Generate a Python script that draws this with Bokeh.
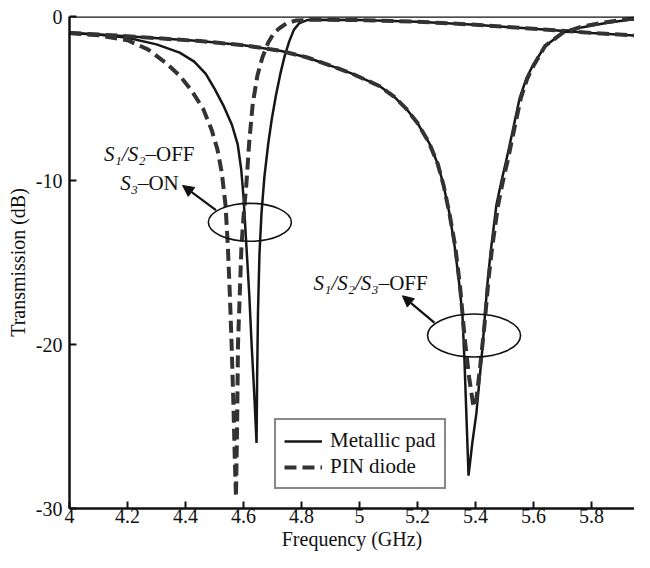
from bokeh.plotting import figure
from bokeh.models import (Range1d, FixedTicker, Span, Legend, LegendItem, Arrow, NormalHead)
from bokeh.core.properties import value
from bokeh.embed import file_html
from bokeh.resources import INLINE

# ---- data ----
x_ticks = [4, 4.2, 4.4, 4.6, 4.8, 5, 5.2, 5.4, 5.6, 5.8, 6]
x_tick_labels = ["4", "4.2", "4.4", "4.6", "4.8", "5", "5.2", "5.4", "5.6", "5.8", "6"]
y_ticks = [0, -10, -20, -30]
y_tick_labels = ["0", "-10", "-20", "-30"]

# S1/S2-OFF, S3-ON : metallic pad (solid)
freq_a = [4.00, 4.10, 4.20, 4.30, 4.38, 4.43, 4.47, 4.50, 4.53, 4.56, 4.58, 4.592, 4.600,
          4.610, 4.620, 4.628, 4.637, 4.645, 4.647, 4.650, 4.655, 4.662, 4.672, 4.685,
          4.698, 4.712, 4.727, 4.742, 4.758, 4.774, 4.793, 4.82, 4.90, 5.00, 5.20, 5.40,
          5.60, 5.80, 6.00]
db_a = [-1.00, -1.10, -1.30, -1.70, -2.20, -2.75, -3.50, -4.40, -5.40, -6.60, -7.80, -9.30,
        -11.0, -14.0, -17.0, -20.0, -23.0, -26.0, -22.0, -18.0, -14.5, -12.0, -9.8, -7.8,
        -6.2, -4.8, -3.5, -2.4, -1.5, -0.8, -0.4, -0.22, -0.2, -0.22, -0.32, -0.50,
        -0.75, -1.00, -1.22]

# S1/S2-OFF, S3-ON : PIN diode (dashed)
freq_b = [4.00, 4.10, 4.20, 4.27, 4.33, 4.38, 4.42, 4.46, 4.49, 4.51, 4.525, 4.538, 4.546,
          4.553, 4.559, 4.565, 4.570, 4.574, 4.578, 4.581, 4.587, 4.593, 4.601, 4.610,
          4.620, 4.632, 4.648, 4.665, 4.685, 4.705, 4.725, 4.75, 4.78, 4.83, 4.90, 5.00,
          5.20, 5.40, 5.60, 5.80, 6.00]
db_b = [-1.00, -1.15, -1.45, -2.00, -2.80, -3.60, -4.50, -5.60, -6.90, -8.10, -9.50, -11.5,
        -14.0, -17.0, -20.0, -23.5, -27.0, -29.3, -25.0, -20.0, -17.0, -14.0, -12.0, -10.2,
        -7.6, -5.3, -3.6, -2.5, -1.6, -1.0, -0.7, -0.4, -0.25, -0.2, -0.2, -0.22,
        -0.32, -0.50, -0.75, -1.00, -1.22]

# S1/S2/S3-OFF : metallic pad (solid)
freq_c = [4.00, 4.20, 4.45, 4.60, 4.73, 4.82, 4.90, 4.97, 5.02, 5.07, 5.12, 5.16, 5.20,
          5.24, 5.27, 5.29, 5.31, 5.328, 5.342, 5.355, 5.362, 5.369, 5.376, 5.389, 5.403,
          5.424, 5.440, 5.452, 5.472, 5.490, 5.507, 5.528, 5.552, 5.575, 5.597, 5.640,
          5.700, 5.770, 5.850, 5.930, 6.00]
db_c = [-1.00, -1.20, -1.50, -1.75, -2.10, -2.50, -3.00, -3.45, -3.85, -4.25, -4.90, -5.60,
        -6.50, -7.70, -9.00, -10.3, -12.0, -14.0, -16.0, -18.2, -21.0, -24.5, -28.0, -26.0,
        -24.2, -20.2, -16.5, -14.4, -11.5, -10.0, -8.7, -7.0, -5.0, -3.8, -3.0, -1.8,
        -1.0, -0.65, -0.4, -0.2, -0.1]

# S1/S2/S3-OFF : PIN diode (dashed)
freq_d = [4.00, 4.20, 4.45, 4.60, 4.73, 4.82, 4.90, 4.97, 5.02, 5.07, 5.12, 5.16, 5.20,
          5.24, 5.27, 5.29, 5.31, 5.330, 5.347, 5.362, 5.378, 5.393, 5.402, 5.415, 5.430,
          5.445, 5.458, 5.478, 5.495, 5.512, 5.532, 5.556, 5.578, 5.600, 5.640, 5.700,
          5.770, 5.850, 5.930, 6.00]
db_d = [-1.00, -1.20, -1.50, -1.75, -2.10, -2.50, -3.00, -3.45, -3.85, -4.25, -4.90, -5.60,
        -6.50, -7.70, -9.00, -10.3, -12.0, -14.0, -16.5, -19.5, -22.0, -23.8, -23.5, -21.5,
        -19.0, -16.0, -14.0, -11.5, -10.0, -8.7, -7.0, -5.0, -3.8, -3.0, -1.8, -1.0,
        -0.6, -0.35, -0.15, -0.05]

FONT = "Liberation Serif"
SOLID = "#161616"
DASH = "#333333"
FS = "20px"

LEFT = 69
W = 634
# frame: 290 px per GHz starting at 4 GHz; the page cuts the chart just before 6 GHz
p = figure(width=W, height=552, output_backend="svg", toolbar_location=None,
           x_range=Range1d(4, 4 + (W - LEFT) / 290), y_range=Range1d(-30, 0),
           min_border_left=LEFT, min_border_right=0, min_border_top=16, min_border_bottom=44)
p.outline_line_color = None
p.grid.visible = False
p.background_fill_color = "white"
p.border_fill_color = "white"

# axes
p.xaxis.ticker = FixedTicker(ticks=x_ticks)
p.xaxis.major_label_overrides = dict(zip(x_ticks, x_tick_labels))
p.yaxis.ticker = FixedTicker(ticks=y_ticks)
p.yaxis.major_label_overrides = dict(zip(y_ticks, y_tick_labels))
for ax in (p.xaxis, p.yaxis):
    ax.axis_line_color = "#111111"
    ax.axis_line_width = 2.5
    ax.major_tick_line_color = "#111111"
    ax.major_tick_line_width = 2
    ax.major_tick_in = 7
    ax.major_tick_out = 0
    ax.minor_tick_line_color = None
    ax.major_label_text_font = FONT
    ax.major_label_text_font_size = FS
    ax.major_label_text_color = "#111111"
    ax.axis_label_text_font = FONT
    ax.axis_label_text_font_size = FS
    ax.axis_label_text_font_style = "normal"
    ax.axis_label_text_color = "#111111"
p.xaxis.axis_label = "Frequency (GHz)"
p.yaxis.axis_label = "Transmission (dB)"
p.xaxis.major_label_standoff = 0
p.xaxis.axis_label_standoff = 2
p.yaxis.major_label_standoff = 7
p.yaxis.axis_label_standoff = 4

p.add_layout(Span(location=0, dimension="width", line_color="#111111", line_width=2.5))

# curves
ra = p.line(freq_a, db_a, line_color=SOLID, line_width=2.5)
rb = p.line(freq_b, db_b, line_color=DASH, line_width=4, line_dash="12 6")
rc = p.line(freq_c, db_c, line_color=SOLID, line_width=2.5)
rd = p.line(freq_d, db_d, line_color=DASH, line_width=4, line_dash="12 6")

# annotations: ellipses
p.ellipse(x=[4.622, 5.395], y=[-12.55, -19.45], width=[83, 93], height=[38, 43],
          width_units="screen", height_units="screen",
          fill_color=None, line_color="#111111", line_width=1.6)

# arrows
for xs, ys, xe, ye in [(4.505, -11.8, 4.39, -10.3), (5.258, -18.67, 5.148, -17.03)]:
    p.add_layout(Arrow(end=NormalHead(size=11, fill_color="#111111", line_color="#111111"),
                       x_start=xs, y_start=ys, x_end=xe, y_end=ye,
                       line_color="#111111", line_width=2.2))

# labels
p.text(x=[4.262, 4.236, 5.066], y=[-8.36, -10.18, -16.24],
       text=["S\u2081/S\u2082", "S\u2083", "S\u2081/S\u2082/S\u2083"],
       text_font=value(FONT), text_font_size="21px", text_font_style="italic",
       text_align="right", text_baseline="middle", text_color="#111111")
p.text(x=[4.262, 4.236, 5.066], y=[-8.36, -10.18, -16.24],
       text=["\u2013OFF", "\u2013ON", "\u2013OFF"],
       text_font=value(FONT), text_font_size="21px",
       text_align="left", text_baseline="middle", text_color="#111111")

legend = Legend(items=[LegendItem(label="Metallic pad", renderers=[ra]),
                       LegendItem(label="PIN diode", renderers=[rb])],
                location=(205, 19))
legend.border_line_color = "#111111"
legend.border_line_width = 2.5
legend.background_fill_alpha = 1
legend.label_text_font = FONT
legend.label_text_font_size = "21px"
legend.label_text_color = "#111111"
legend.label_height = 24
legend.glyph_height = 24
legend.glyph_width = 38
legend.spacing = 1
legend.padding = 8
legend.margin = 0
legend.label_standoff = 8
p.add_layout(legend, "center")

open("out.html", "w").write(file_html(p, INLINE))
